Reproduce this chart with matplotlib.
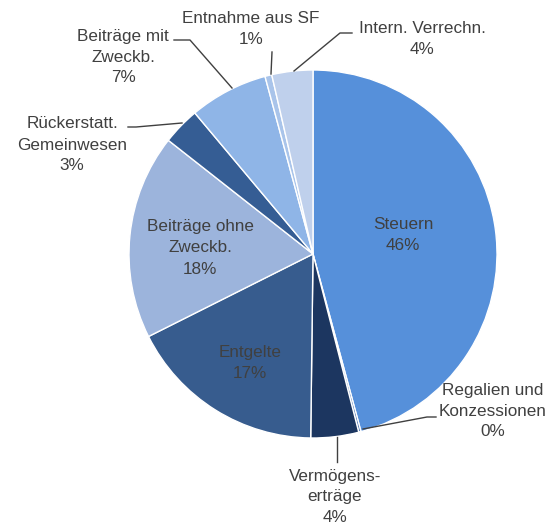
import matplotlib
matplotlib.use("Agg")
import matplotlib.pyplot as plt

categories = ["Steuern", "Regalien und\nKonzessionen", "Vermögens-\nerträge", "Entgelte",
              "Beiträge ohne\nZweckb.", "Rückerstatt.\nGemeinwesen", "Beiträge mit\nZweckb.",
              "Entnahme aus SF", "Intern. Verrechn."]
values = [45.8, 0.2, 4.2, 17.4, 18.0, 3.3, 6.9, 0.6, 3.6]
colors = ["#5690DA", "#4A72B0", "#1C3660", "#375C8E", "#9CB4DC", "#355D94", "#8FB5E7", "#A9C4EA", "#BFD0EC"]

W, H = 551, 523
cx, cy, R = 313, 254, 184
fig = plt.figure(figsize=(W/100, H/100), dpi=100)
ax = fig.add_axes([(cx-R)/W, (H-cy-R)/H, 2*R/W, 2*R/H])
ax.pie(values, colors=colors, startangle=90, counterclock=False, radius=1,
       wedgeprops=dict(edgecolor="white", linewidth=1))
ax.set_xlim(-1, 1); ax.set_ylim(-1, 1)
ax.set_aspect("equal")
ax.axis("off")

def P(x, y):
    return ((x-cx)/R, (cy-y)/R)

tc = "#404040"
fs = 12.3
fam = ["Liberation Sans", "DejaVu Sans"]
total = sum(values)
pct = [f"{round(v/total*100):d}%" for v in values]

# label positions (pixel coords) and leader lines
label_pos = [(403, 235), (493, 411), (335, 497), (250, 363), (200, 248),
             (72, 145), (123, 57), (251, 29), (422, 39)]
leaders = {
    1: [(363, 429), (427, 417), (436, 417)],
    2: [(337, 437), (337, 462)],
    5: [(128, 127), (136, 127), (182, 123)],
    6: [(174, 40), (190, 40), (232, 88)],
    7: [(272, 52), (271, 74)],
    8: [(352, 33), (340, 33), (294, 71)],
}
for i, (lx, ly) in enumerate(label_pos):
    x, y = P(lx, ly)
    ax.text(x, y, f"{categories[i]}\n{pct[i]}", ha="center", va="center",
            fontsize=fs, color=tc, family=fam, linespacing=1.5, clip_on=False)
for i, pts in leaders.items():
    xs, ys = zip(*[P(a, b) for a, b in pts])
    ax.plot(xs, ys, color="#404040", lw=1, clip_on=False)

fig.savefig("out.png", dpi=100)
